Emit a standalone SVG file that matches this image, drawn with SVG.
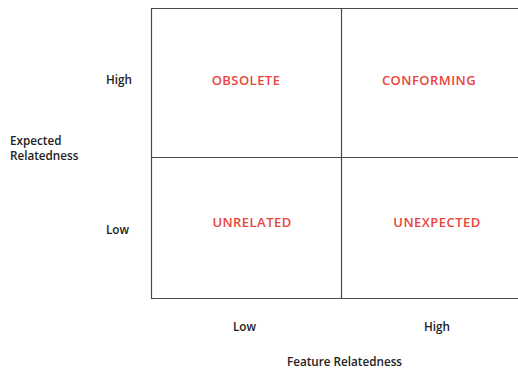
<svg xmlns="http://www.w3.org/2000/svg" width="518" height="369" viewBox="0 0 518 369">
  <style>
    .axis { font-family: "Open Sans", "Liberation Sans", sans-serif; font-size: 11.7px; font-weight: 600; fill: #222; }
    .quad { font-family: "Open Sans", "Liberation Sans", sans-serif; font-size: 13px; font-weight: 600; fill: #e8453c; text-anchor: middle; letter-spacing: 0.45px; }
    .grid { stroke: #4a4a4a; stroke-width: 1.2; fill: none; }
  </style>
  <rect width="518" height="369" fill="#fff"/>
  <g id="grid">
    <path class="grid" d="M518,8.5 H151.5 V298.5 H518"/>
    <path class="grid" d="M151.5,157.5 H518"/>
    <path class="grid" d="M341.5,8 V298.5"/>
  </g>
  <g id="axis-labels">
    <text class="axis" x="106" y="84">High</text>
    <text class="axis" x="106" y="234">Low</text>
    <text class="axis" x="10" y="145">Expected</text>
    <text class="axis" x="10" y="160">Relatedness</text>
    <text class="axis" x="233" y="331">Low</text>
    <text class="axis" x="424" y="331">High</text>
    <text class="axis" x="287" y="366">Feature Relatedness</text>
  </g>
  <g id="obsolete"><text class="quad" x="246" y="85">OBSOLETE</text></g>
  <g id="conforming"><text class="quad" x="429" y="85">CONFORMING</text></g>
  <g id="unrelated"><text class="quad" x="252" y="227">UNRELATED</text></g>
  <g id="unexpected"><text class="quad" x="437" y="227">UNEXPECTED</text></g>
</svg>
